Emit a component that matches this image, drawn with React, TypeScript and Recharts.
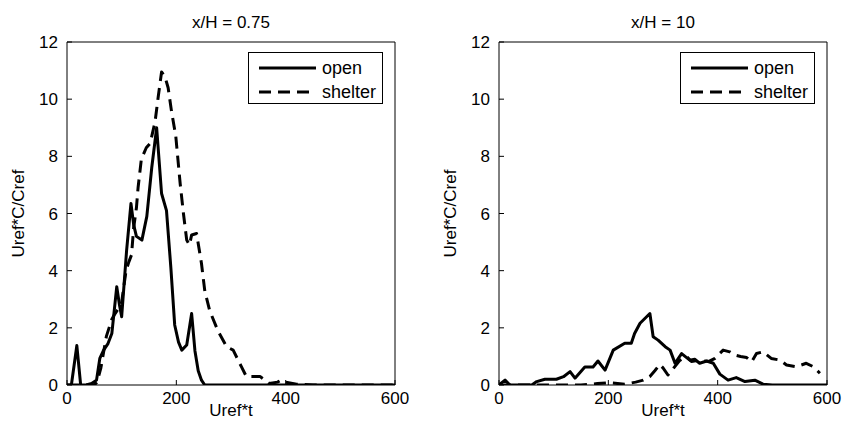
import React from 'react';
import { LineChart, Line, XAxis, YAxis, Legend } from 'recharts';

// axis ticks shared by both panels
const tTicks = [0, 200, 400, 600];
const cTicks = [0, 2, 4, 6, 8, 10, 12];

// x/H = 0.75, open terrain
const nearOpenT = [0, 8, 18, 25, 35, 45, 54, 60, 67, 75, 82, 91, 96, 100, 109, 117, 122, 127, 137, 146, 155, 164, 173, 182, 190, 197, 204, 210, 219, 228, 234, 240, 246, 252, 300, 400, 500, 600];
const nearOpenC = [0, 0, 1.38, 0, 0, 0.05, 0.17, 0.93, 1.22, 1.45, 1.8, 3.44, 2.8, 2.39, 4.7, 6.35, 5.6, 5.2, 5.07, 5.9, 7.6, 9.0, 6.7, 6.1, 4.1, 2.1, 1.5, 1.22, 1.4, 2.5, 1.2, 0.5, 0.17, 0, 0, 0, 0, 0];

// x/H = 0.75, behind the shelter
const nearShelterT = [0, 40, 50, 55, 62, 72, 82, 88, 95, 100, 108, 113, 118, 122, 127, 130, 136, 145, 152, 161, 167, 173, 179, 185, 191, 199, 207, 213, 219, 224, 228, 237, 246, 252, 261, 276, 292, 304, 319, 328, 340, 353, 370, 385, 392, 400, 420, 450, 500, 600];
const nearShelterC = [0, 0, 0, 0.1, 0.6, 1.7, 2.3, 2.5, 2.7, 2.9, 4.0, 4.3, 4.55, 5.5, 6.2, 6.9, 7.9, 8.3, 8.45, 9.2, 10.1, 10.95, 10.8, 10.4, 9.6, 8.7, 7.05, 6.0, 5.07, 4.9, 5.25, 5.3, 4.25, 3.3, 2.6, 1.9, 1.34, 1.22, 0.64, 0.3, 0.3, 0.3, 0.05, 0.1, 0.17, 0.1, 0.03, 0, 0, 0];

// x/H = 10, open terrain
const farOpenT = [0, 11, 20, 40, 60, 69, 84, 105, 118, 130, 139, 157, 172, 181, 194, 209, 230, 242, 248, 258, 276, 282, 291, 304, 313, 322, 334, 349, 358, 367, 380, 392, 404, 419, 434, 450, 468, 483, 500, 600];
const farOpenC = [0, 0.17, 0, 0, 0, 0.12, 0.2, 0.2, 0.29, 0.47, 0.24, 0.63, 0.63, 0.84, 0.52, 1.22, 1.46, 1.46, 1.8, 2.16, 2.5, 1.69, 1.57, 1.34, 1.22, 0.76, 1.1, 0.87, 0.9, 0.76, 0.84, 0.76, 0.38, 0.17, 0.26, 0.12, 0.17, 0.03, 0, 0];

// x/H = 10, behind the shelter
const farShelterT = [0, 100, 150, 180, 200, 230, 250, 264, 276, 285, 294, 300, 309, 319, 330, 343, 352, 367, 383, 395, 410, 422, 431, 442, 453, 462, 471, 483, 498, 514, 526, 544, 562, 575, 587];
const farShelterC = [0, 0, 0, 0.05, 0.08, 0.03, 0.1, 0.17, 0.3, 0.5, 0.72, 0.6, 0.35, 0.58, 0.85, 1.0, 0.82, 0.87, 0.82, 0.93, 1.22, 1.16, 1.05, 1.0, 0.96, 0.81, 1.1, 1.16, 0.93, 0.87, 0.7, 0.64, 0.76, 0.64, 0.41];

const zip = (t: number[], c: number[]) => t.map((v, i) => ({ t: v, c: c[i] }));

const FONT = '"Liberation Sans", Arial, Helvetica, sans-serif';
const tickStyle = { fontSize: 17, fill: '#000', fontFamily: FONT };
const DASH = '12 7';

const renderLegend = ({ payload }: any) => (
  <div
    style={{
      border: '1px solid #000',
      background: '#fff',
      width: 135,
      height: 52,
      padding: '3px 0 0 10px',
      boxSizing: 'border-box',
      fontFamily: FONT,
      fontSize: 18,
      color: '#000',
    }}
  >
    {(payload || []).map((entry: any) => (
      <div key={entry.value} style={{ display: 'flex', alignItems: 'center', height: 24 }}>
        <svg width={57} height={6} style={{ display: 'block' }}>
          <line
            x1={0}
            y1={3}
            x2={57}
            y2={3}
            stroke="#000"
            strokeWidth={3}
            strokeDasharray={entry.value === 'shelter' ? DASH : undefined}
          />
        </svg>
        <span style={{ marginLeft: 6, lineHeight: '24px' }}>{entry.value}</span>
      </div>
    ))}
  </div>
);

const xLabel = ({ viewBox }: any) => (
  <text
    x={viewBox.x + viewBox.width / 2}
    y={viewBox.y + 31}
    textAnchor="middle"
    fontSize={17}
    fontFamily={FONT}
    fill="#000"
  >
    Uref*t
  </text>
);

const yLabel = ({ viewBox }: any) => {
  const x = viewBox.x - 4;
  const y = viewBox.y + viewBox.height / 2;
  return (
    <text
      x={x}
      y={y}
      transform={`rotate(-90 ${x} ${y})`}
      textAnchor="middle"
      dominantBaseline="central"
      fontSize={17}
      fontFamily={FONT}
      fill="#000"
    >
      Uref*C/Cref
    </text>
  );
};

const titleLabel = (title: string) => ({ viewBox }: any) => (
  <text
    x={viewBox.x + viewBox.width / 2}
    y={viewBox.y - 13}
    textAnchor="middle"
    fontSize={17}
    fontFamily={FONT}
    fill="#000"
  >
    {title}
  </text>
);

interface PanelProps {
  title: string;
  open: { t: number; c: number }[];
  shelter: { t: number; c: number }[];
  left: number;
  right: number;
  legendLeft: number;
}

const Panel = ({ title, open, shelter, left, right, legendLeft }: PanelProps) => (
  <LineChart width={423} height={435} margin={{ top: 41, right, bottom: 0, left }}>
    <XAxis
      dataKey="t"
      type="number"
      domain={[0, 600]}
      ticks={tTicks}
      allowDataOverflow
      stroke="#000"
      tickSize={-5}
      tickMargin={12}
      tick={tickStyle}
      height={50}
      label={xLabel}
    />
    <XAxis
      xAxisId="top"
      orientation="top"
      type="number"
      domain={[0, 600]}
      ticks={tTicks}
      allowDataOverflow
      stroke="#000"
      tickSize={-5}
      tick={false}
      height={1}
      label={titleLabel(title)}
    />
    <YAxis
      type="number"
      domain={[0, 12]}
      ticks={cTicks}
      allowDataOverflow
      stroke="#000"
      tickSize={-5}
      tickMargin={14}
      tick={tickStyle}
      width={45}
      label={yLabel}
    />
    <YAxis
      yAxisId="right"
      orientation="right"
      type="number"
      domain={[0, 12]}
      ticks={cTicks}
      allowDataOverflow
      stroke="#000"
      tickSize={-5}
      tick={false}
      width={1}
    />
    <Legend
      layout="vertical"
      align="center"
      verticalAlign="middle"
      content={renderLegend}
      wrapperStyle={{ left: legendLeft, top: 52, width: 'auto', height: 'auto' }}
    />
    <Line
      data={open}
      dataKey="c"
      name="open"
      type="linear"
      stroke="#000"
      strokeWidth={3}
      strokeLinejoin="round"
      dot={false}
      isAnimationActive={false}
    />
    <Line
      data={shelter}
      dataKey="c"
      name="shelter"
      type="linear"
      stroke="#000"
      strokeWidth={3}
      strokeDasharray={DASH}
      strokeLinejoin="round"
      dot={false}
      isAnimationActive={false}
    />
  </LineChart>
);

export default function App() {
  return (
    <div
      style={{
        position: 'absolute',
        left: 0,
        top: 0,
        width: 846,
        height: 435,
        display: 'flex',
        background: '#fff',
      }}
    >
      <Panel
        title="x/H = 0.75"
        open={zip(nearOpenT, nearOpenC)}
        shelter={zip(nearShelterT, nearShelterC)}
        left={22}
        right={27}
        legendLeft={248}
      />
      <Panel
        title="x/H = 10"
        open={zip(farOpenT, farOpenC)}
        shelter={zip(farShelterT, farShelterC)}
        left={31}
        right={18}
        legendLeft={257}
      />
    </div>
  );
}
